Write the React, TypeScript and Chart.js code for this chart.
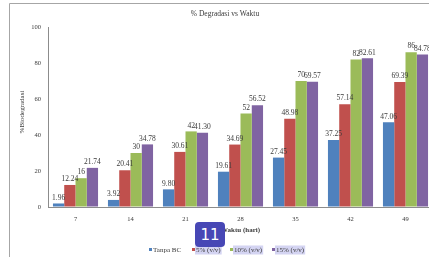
import React, { useEffect, useRef } from 'react';
import { Chart, registerables } from 'chart.js';
Chart.register(...registerables);

const categories = ['7', '14', '21', '28', '35', '42', '49'];
const seriesNames = ['Tanpa BC', '5% (v/v)', '10% (v/v)', '15% (v/v)'];
const tanpaBC = [1.96, 3.92, 9.8, 19.61, 27.45, 37.25, 47.06];
const bc5 = [12.24, 20.41, 30.61, 34.69, 48.98, 57.14, 69.39];
const bc10 = [16, 30, 42, 52, 70, 82, 86];
const bc15 = [21.74, 34.78, 41.3, 56.52, 69.57, 82.61, 84.78];
const tanpaBCLabels = ['1.96', '3.92', '9.80', '19.61', '27.45', '37.25', '47.06'];
const bc5Labels = ['12.24', '20.41', '30.61', '34.69', '48.98', '57.14', '69.39'];
const bc10Labels = ['16', '30', '42', '52', '70', '82', '86'];
const bc15Labels = ['21.74', '34.78', '41.30', '56.52', '69.57', '82.61', '84.78'];
const yTicks = [0, 20, 40, 60, 80, 100];
const chartTitle = '% Degradasi vs Waktu';
const yTitle = '%Biodegradasi';
const xTitle = 'Waktu (hari)';
const colors = ['#4F81BD', '#C0504D', '#9BBB59', '#8064A2'];

const W = 445;
const H = 257;
const AREA = { left: 48, top: 27, right: 433, bottom: 207 };
const SERIF = '"Liberation Serif", "Times New Roman", serif';
const LEGEND_X = [149, 192, 230, 272];

export default function App() {
  const ref = useRef<HTMLCanvasElement | null>(null);
  useEffect(() => {
    const canvas = ref.current;
    if (!canvas) return;
    const allLabels = [tanpaBCLabels, bc5Labels, bc10Labels, bc15Labels];
    const decor = {
      id: 'decor',
      afterDraw(chart: any) {
        const ctx = chart.ctx;
        const ca = chart.chartArea;
        ctx.save();
        // frame
        ctx.strokeStyle = '#a6a6a6';
        ctx.lineWidth = 1;
        ctx.beginPath();
        ctx.moveTo(9.5, H);
        ctx.lineTo(9.5, 3.5);
        ctx.lineTo(W, 3.5);
        ctx.stroke();
        // data labels
        ctx.fillStyle = '#3a3a3a';
        ctx.font = `7.5px ${SERIF}`;
        ctx.textAlign = 'center';
        ctx.textBaseline = 'bottom';
        chart.data.datasets.forEach((ds: any, i: number) => {
          const meta = chart.getDatasetMeta(i);
          meta.data.forEach((bar: any, j: number) => {
            ctx.fillText(allLabels[i][j], bar.x, bar.y - 2);
          });
        });
        // title
        ctx.font = `7.5px ${SERIF}`;
        ctx.textBaseline = 'middle';
        ctx.fillText(chartTitle, 225, 14);
        // x title
        ctx.font = `bold 7px ${SERIF}`;
        ctx.fillText(xTitle, (ca.left + ca.right) / 2, 230);
        // y title
        ctx.save();
        ctx.translate(22.5, 112);
        ctx.rotate(-Math.PI / 2);
        ctx.font = `7px ${SERIF}`;
        ctx.fillText(yTitle, 0, 0);
        ctx.restore();
        // legend
        ctx.font = `7px ${SERIF}`;
        ctx.textAlign = 'left';
        const ly = 250;
        seriesNames.forEach((name, i) => {
          const x = LEGEND_X[i];
          const tw = ctx.measureText(name).width;
          if (i > 0) {
            ctx.fillStyle = '#d4d4f2';
            ctx.fillRect(x + 3, ly - 4.5, tw + 2, 9);
          }
          ctx.fillStyle = colors[i];
          ctx.fillRect(x, ly - 2, 3, 3);
          ctx.fillStyle = '#3a3a3a';
          ctx.fillText(name, x + 4, ly);
        });
        ctx.restore();
      },
    };
    const chart = new Chart(canvas, {
      type: 'bar',
      data: {
        labels: categories,
        datasets: [tanpaBC, bc5, bc10, bc15].map((d, i) => ({
          label: seriesNames[i],
          data: d,
          backgroundColor: colors[i],
          borderWidth: 0,
          barPercentage: 1,
          categoryPercentage: 0.82,
        })),
      },
      options: {
        responsive: false,
        animation: false,
        layout: {
          padding: { left: 0, top: AREA.top, right: W - AREA.right, bottom: 0 },
        },
        plugins: {
          legend: { display: false },
          title: { display: false },
          tooltip: { enabled: false },
        },
        scales: {
          x: {
            grid: { display: true, drawOnChartArea: false, drawTicks: false },
            border: { display: true, color: '#8c8c8c', width: 1 },
            ticks: { color: '#3a3a3a', font: { family: SERIF, size: 6.5 }, padding: 8 },
            afterFit: (s: any) => {
              s.height = H - AREA.bottom;
            },
          },
          y: {
            min: 0,
            max: 100,
            afterBuildTicks: (s: any) => {
              s.ticks = yTicks.map((v) => ({ value: v }));
            },
            grid: { display: true, drawOnChartArea: false, drawTicks: false },
            border: { display: true, color: '#8c8c8c', width: 1 },
            ticks: { color: '#3a3a3a', font: { family: SERIF, size: 6.5 }, padding: 7 },
            afterFit: (s: any) => {
              s.width = AREA.left;
            },
          },
        },
      },
      plugins: [decor],
    } as any);
    return () => chart.destroy();
  }, []);
  return (
    <div
      style={{
        position: 'fixed',
        left: 0,
        top: 0,
        width: 429,
        height: 257,
        overflow: 'hidden',
        background: '#fff',
      }}
    >
      <canvas ref={ref} width={W} height={H} style={{ position: 'absolute', left: 0, top: 0, width: W, height: H }} />
      <div
        style={{
          position: 'absolute',
          left: 195,
          top: 222,
          width: 30,
          height: 25,
          borderRadius: 4,
          background: '#4747b5',
          color: '#fff',
          font: '15px "DejaVu Sans", sans-serif',
          display: 'flex',
          alignItems: 'center',
          justifyContent: 'center',
        }}
      >
        11
      </div>
    </div>
  );
}
